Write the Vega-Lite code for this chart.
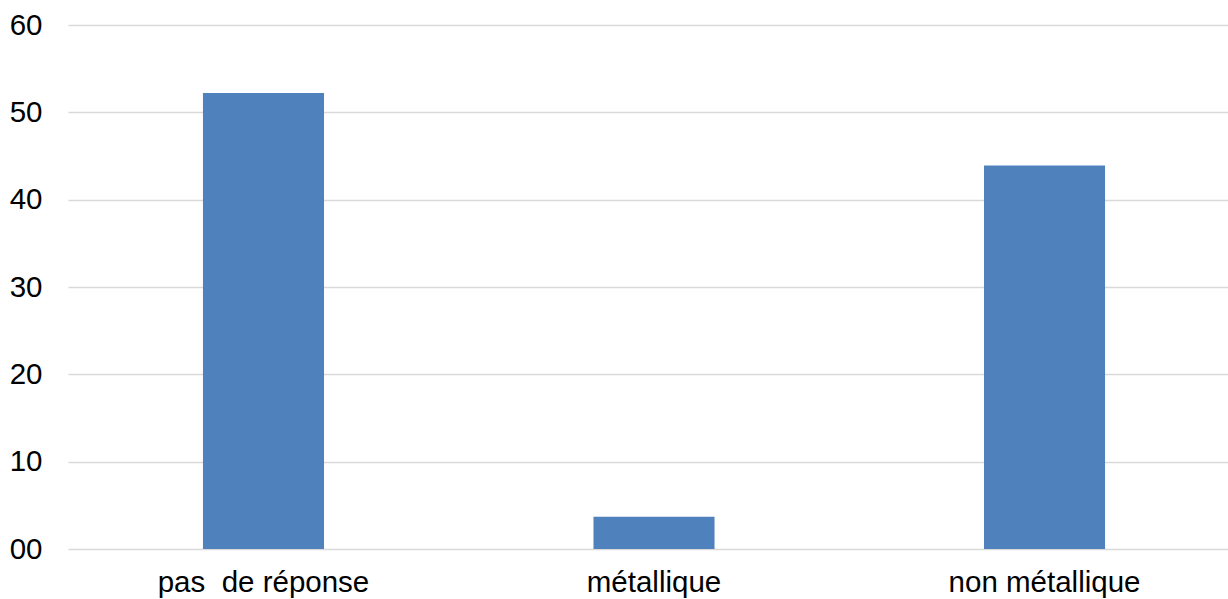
{
  "$schema": "https://vega.github.io/schema/vega-lite/v6.json",
  "autosize": {"type": "none"},
  "padding": {"left": 68, "top": 25, "right": 0, "bottom": 50},
  "width": 1160,
  "height": 524,
  "background": "white",
  "config": {"view": {"stroke": null}, "font": "Liberation Sans"},
  "data": {"values": [
    {"categorie": "pas\u00a0 de réponse", "valeur": 52.2},
    {"categorie": "métallique", "valeur": 3.7},
    {"categorie": "non métallique", "valeur": 43.9}
  ]},
  "mark": {"type": "bar", "color": "#4f81bd"},
  "encoding": {
    "x": {
      "field": "categorie", "type": "nominal", "sort": null,
      "scale": {"paddingInner": 0.69, "paddingOuter": 0.3456, "range": [0, 1172]},
      "axis": {"title": null, "labelAngle": 0, "labelFontSize": 29.5, "labelLimit": 0, "labelColor": "#000000", "labelPadding": 19, "ticks": false, "domain": false, "grid": false}
    },
    "y": {
      "field": "valeur", "type": "quantitative",
      "scale": {"domain": [0, 60], "nice": false},
      "axis": {"title": null, "values": [0, 10, 20, 30, 40, 50, 60], "labelExpr": "datum.value == 0 ? '00' : datum.label", "labelFontSize": 29.5, "labelColor": "#000000", "labelPadding": 26, "ticks": false, "domain": false, "gridColor": "#d9d9d9", "gridWidth": 1.5}
    }
  }
}
